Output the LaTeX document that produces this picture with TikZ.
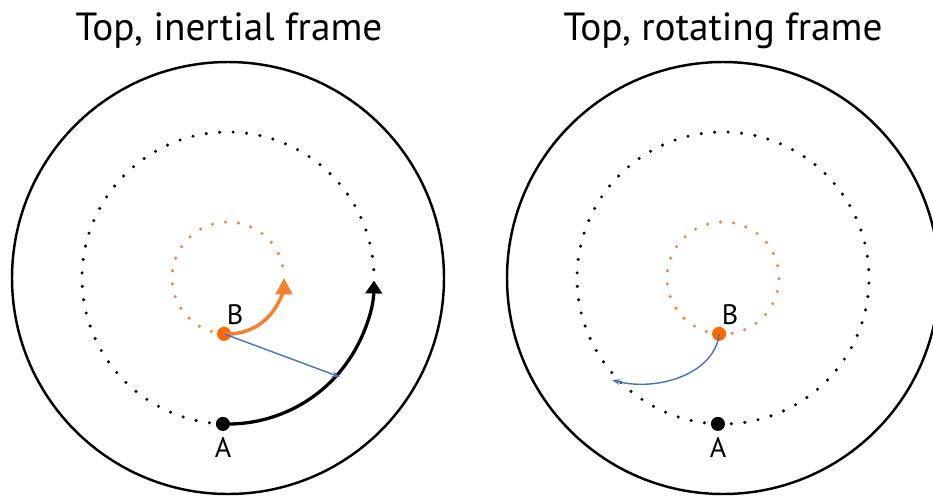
\documentclass[tikz,border=0pt]{standalone}
\usepackage{fontspec}
\setmainfont{PT Sans}
\usetikzlibrary{arrows.meta,calc}
\definecolor{ptorange}{RGB}{255,106,0}
\definecolor{trackorange}{RGB}{247,128,48}
\definecolor{vecblue}{RGB}{70,114,196}

\begin{document}
\begin{tikzpicture}[x=0.03cm,y=-0.03cm,
  rim/.style={line width=2.1pt},
  title/.style={anchor=base,font=\fontsize{33.5}{38}\selectfont},
  lbl/.style={font=\fontsize{24}{28}\selectfont},
  adot/.style={circle,fill=black,inner sep=0pt,minimum size=12pt},
  bdot/.style={circle,fill=ptorange,inner sep=0pt,minimum size=12pt},
  pathA/.style={line width=2.8pt,-{Triangle[length=11pt,width=14pt]}},
  pathB/.style={trackorange,line width=3pt,-{Triangle[length=14pt,width=14pt]}},
  vec/.style={vecblue,line width=1.2pt,-{Stealth[length=7pt,width=5pt]}}]
  \clip (0,0) rectangle (933,496);
  \coordinate (O1) at (228,278);
  \coordinate (O2) at (723,278);
  \node[title] (t1) at (229,40) {Top, inertial frame};
  \node[title] (t2) at (723,40) {Top, rotating frame};
  \draw[rim] (O1) circle (216);
  \draw[rim] (O2) circle (216);
  % dotted tracks
  \foreach \k in {18,...,67}
    \fill ($(O1)+({92-\k*5.294}:146)$) circle (1.7);
  \foreach \k in {8,...,26}
    \fill[trackorange] ($(O1)+({94-\k*13.333}:56)$) circle (1.7);
  \foreach \k in {0,...,67}
    \fill ($(O2)+({92-\k*5.294}:146)$) circle (1.7);
  \foreach \k in {0,...,26}
    \fill[trackorange] ($(O2)+({94-\k*13.333}:56)$) circle (1.7);
  % points
  \node[adot] (A1) at ($(O1)+(92:146)$) {};
  \node[bdot] (B1) at ($(O1)+(94:56)$) {};
  \node[adot] (A2) at ($(O2)+(92:146)$) {};
  \node[bdot] (B2) at ($(O2)+(94:56)$) {};
  \node[lbl] (lA1) at (223,447) {A};
  \node[lbl] (lB1) at (235,315) {B};
  \node[lbl] (lA2) at (718,447) {A};
  \node[lbl] (lB2) at (730,315) {B};
  % motions
  \draw[pathA] (A1.center) arc[start angle=92,end angle=1,radius=146];
  \draw[pathB] (B1.center) arc[start angle=94,end angle=0,radius=56];
  \coordinate (V1) at (340,377);
  \coordinate (V2) at (612,380);
  \draw[vec] (B1.center) -- (V1);
  \draw[vec] (B2.center) .. controls +(-4,40) and +(45,12) .. (V2);
\end{tikzpicture}
\end{document}
